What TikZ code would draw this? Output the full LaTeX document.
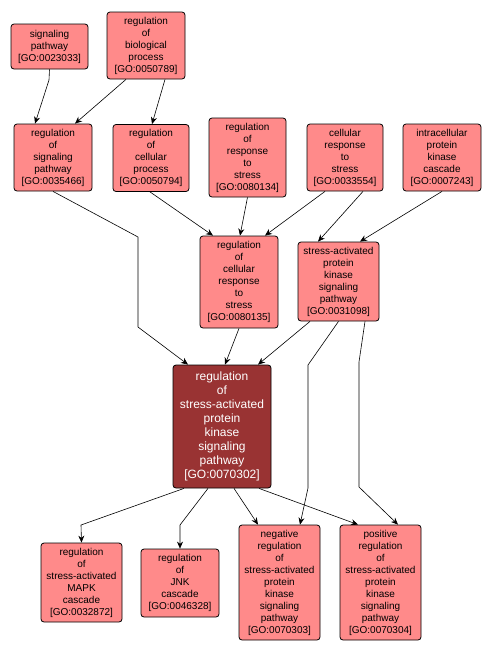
\documentclass[tikz,border=0pt]{standalone}
\usepackage{fontspec}
\setmainfont{Liberation Sans}
\usetikzlibrary{arrows.meta,positioning}
\definecolor{gopink}{HTML}{FF8A8A}
\definecolor{godark}{HTML}{993333}

\begin{document}
\begin{tikzpicture}[x=1pt,y=-1pt,
        term/.style={draw,fill=gopink,rounded corners=3pt,align=center,inner sep=1pt,
            line width=0.8pt,font=\fontsize{10}{12}\selectfont},
        focus/.style={term,fill=godark,text=white,font=\fontsize{12}{14}\selectfont},
        link/.style={-{Stealth[length=7pt,width=6pt]},line width=0.6pt}]
        \useasboundingbox (0,0) rectangle (491,654);
        \node[term,minimum width=77pt,minimum height=45pt] (go23033) at (49.5,46.5) {signaling\\pathway\\{[GO:0023033]}};
        \node[term,minimum width=78pt,minimum height=67pt] (go50789) at (146,45.5) {regulation\\of\\biological\\process\\{[GO:0050789]}};
        \node[term,minimum width=78pt,minimum height=67pt] (go35466) at (53,157.5) {regulation\\of\\signaling\\pathway\\{[GO:0035466]}};
        \node[term,minimum width=76pt,minimum height=67pt] (go50794) at (151,158) {regulation\\of\\cellular\\process\\{[GO:0050794]}};
        \node[term,minimum width=77pt,minimum height=79pt] (go80134) at (247.5,157.5) {regulation\\of\\response\\to\\stress\\{[GO:0080134]}};
        \node[term,minimum width=76pt,minimum height=67pt] (go33554) at (345,157.5) {cellular\\response\\to\\stress\\{[GO:0033554]}};
        \node[term,minimum width=78pt,minimum height=67pt] (go7243) at (442,157.5) {intracellular\\protein\\kinase\\cascade\\{[GO:0007243]}};
        \node[term,minimum width=78pt,minimum height=92pt] (go80135) at (239,282) {regulation\\of\\cellular\\response\\to\\stress\\{[GO:0080135]}};
        \node[term,minimum width=81pt,minimum height=79pt] (go31098) at (338.5,281.5) {stress-activated\\protein\\kinase\\signaling\\pathway\\{[GO:0031098]}};
        \node[focus,minimum width=98pt,minimum height=123pt] (go70302) at (222,426.5) {regulation\\of\\stress-activated\\protein\\kinase\\signaling\\pathway\\{[GO:0070302]}};
        \node[term,minimum width=81pt,minimum height=79pt] (go32872) at (81.5,582.5) {regulation\\of\\stress-activated\\MAPK\\cascade\\{[GO:0032872]}};
        \node[term,minimum width=78pt,minimum height=68pt] (go46328) at (180,583) {regulation\\of\\JNK\\cascade\\{[GO:0046328]}};
        \node[term,minimum width=81pt,minimum height=115pt] (go70303) at (279.5,582.5) {negative\\regulation\\of\\stress-activated\\protein\\kinase\\signaling\\pathway\\{[GO:0070303]}};
        \node[term,minimum width=81pt,minimum height=115pt] (go70304) at (380.5,582.5) {positive\\regulation\\of\\stress-activated\\protein\\kinase\\signaling\\pathway\\{[GO:0070304]}};

        \draw[link] (go23033.south) -- (49,80) -- ([xshift=-18pt]go35466.north);
        \draw[link] ([xshift=-20pt]go50789.south) -- ([xshift=22pt]go35466.north);
        \draw[link] ([xshift=19pt]go50789.south) -- ([xshift=1pt]go50794.north);
        \draw[link] (go35466.south) -- (138,237) -- (138,327) -- ([xshift=-34pt]go70302.north);
        \draw[link] ([xshift=-1pt]go50794.south) -- ([xshift=-26pt]go80135.north);
        \draw[link] (go80134.south) -- ([xshift=1pt]go80135.north);
        \draw[link] ([xshift=-20pt]go33554.south) -- ([xshift=26pt]go80135.north);
        \draw[link] ([xshift=18pt]go33554.south) -- ([xshift=-20.5pt]go31098.north);
        \draw[link] (go7243.south) -- ([xshift=21.5pt]go31098.north);
        \draw[link] (go80135.south) -- ([xshift=3pt]go70302.north);
        \draw[link] ([xshift=-28.5pt]go31098.south) -- ([xshift=36pt]go70302.north);
        \draw[link] (go31098.south) -- (308,365) -- (308,488) -- ([xshift=20.5pt]go70303.north);
        \draw[link] ([xshift=26.5pt]go31098.south) -- (359,362) -- (359,487) -- ([xshift=17.5pt]go70304.north);
        \draw[link] ([xshift=-38pt]go70302.south) -- (81,525) -- (go32872.north);
        \draw[link] ([xshift=-14pt]go70302.south) -- (180,525) -- (go46328.north);
        \draw[link] ([xshift=12pt]go70302.south) -- ([xshift=-21.5pt]go70303.north);
        \draw[link] ([xshift=37pt]go70302.south) -- ([xshift=-22.5pt]go70304.north);
\end{tikzpicture}
\end{document}
